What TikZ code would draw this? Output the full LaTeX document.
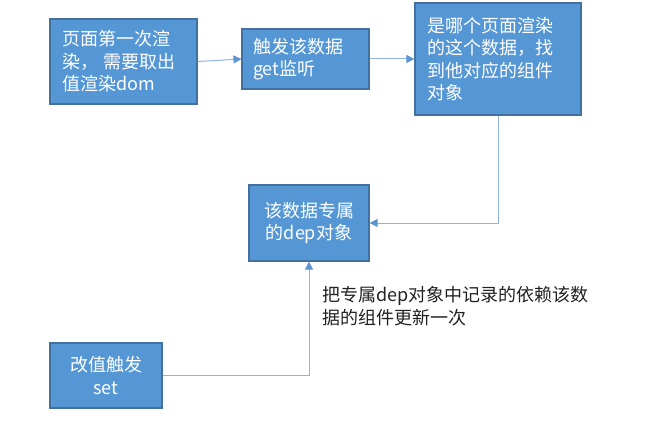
\documentclass[tikz,border=0pt]{standalone}
\usepackage{fontspec}
\setmainfont{Noto Sans CJK SC}
\usetikzlibrary{arrows.meta}
\definecolor{boxfill}{HTML}{5596D5}
\definecolor{boxline}{HTML}{41719C}
\definecolor{linkline}{HTML}{8EB4DC}
\definecolor{linkhead}{HTML}{5B93D3}
\definecolor{labeltext}{HTML}{222222}
\begin{document}
\begin{tikzpicture}[x=1pt,y=-1pt,
  flowbox/.style={draw=boxline,line width=1.2pt,fill=boxfill,text=white,
    inner ysep=0pt,inner xsep=12pt,
    font=\fontsize{18pt}{22.5pt}\selectfont},
  leftbox/.style={flowbox,align=left},
  midbox/.style={flowbox,align=center},
  link/.style={draw=linkline,line width=1pt,
    -{Triangle[length=8pt,width=8pt,color=linkhead]}},
  note/.style={text=labeltext,align=left,inner sep=0pt,
    font=\fontsize{18pt}{23pt}\selectfont}]
\useasboundingbox (0,0) rectangle (650,420);

% process boxes
\node[leftbox,minimum width=147pt,minimum height=85pt,text width=123pt]
  (render) at (123.5,61.5) {页面第一次渲\\染， 需要取出\\值渲染dom};
\node[leftbox,minimum width=127pt,minimum height=60pt,text width=105pt,inner xsep=11pt]
  (getter) at (305.5,59) {触发该数据\\get监听};
\node[leftbox,minimum width=166pt,minimum height=112pt,text width=142pt]
  (owner) at (498,59) {是哪个页面渲染\\的这个数据，找\\到他对应的组件\\对象};
\node[midbox,minimum width=120pt,minimum height=76pt]
  (dep) at (309,223) {该数据专属\\的dep对象};
\node[midbox,minimum width=112pt,minimum height=65pt]
  (setter) at (106,375.5) {改值触发\\set};

% connectors
\draw[link] (render.east) -- (getter.west);
\draw[link] (getter.east) -- (owner.west);
\draw[link] (owner.south) |- (dep.east);
\draw[link] (setter.east) -| (dep.south);

% caption of the update step
\node[note,anchor=north west] (update) at (322,286)
  {把专属dep对象中记录的依赖该数\\据的组件更新一次};
\end{tikzpicture}
\end{document}
